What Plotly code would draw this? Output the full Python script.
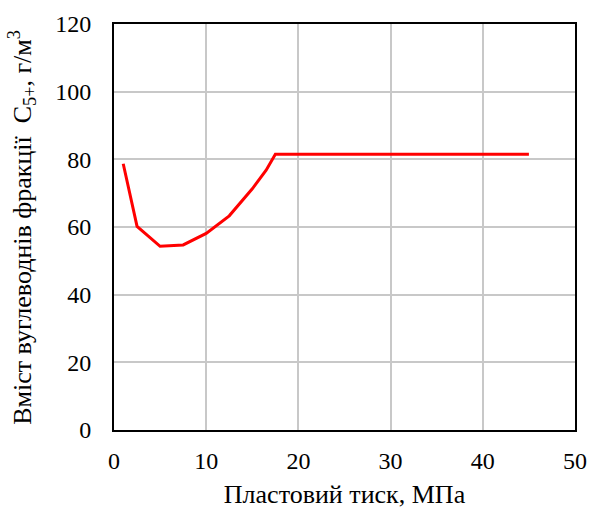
import plotly.graph_objects as go

pressure = [1, 2.5, 5, 7.5, 10, 12.5, 15, 16.5, 17.5, 45]
content = [78.7, 60.2, 54.3, 54.7, 58.1, 63.3, 71.3, 76.8, 81.5, 81.5]

x_ticks = [0, 10, 20, 30, 40, 50]
y_ticks = [0, 20, 40, 60, 80, 100, 120]

x_title = "Пластовий тиск, МПа"
y_title = "Вміст вуглеводнів фракції  C<sub>5+</sub>, г/м<sup>3</sup>"

fig = go.Figure()
fig.add_trace(go.Scatter(x=pressure, y=content, mode="lines",
                         line=dict(color="#ff0000", width=3), showlegend=False))

font = dict(family="Liberation Serif, Times New Roman, serif", size=24, color="black")
tfont = dict(family="Liberation Serif, Times New Roman, serif", size=26, color="black")
fig.update_layout(
    width=590, height=509,
    margin=dict(l=114, r=15, t=24, b=79, autoexpand=False),
    paper_bgcolor="white", plot_bgcolor="white",
    font=font,
    xaxis=dict(range=[0, 50], tickvals=x_ticks, showgrid=True, gridcolor="#c8c8c8", gridwidth=1.5,
               showline=True, linecolor="black", linewidth=2, mirror=True, zeroline=False,
               ticks="", ticklabelstandoff=8, automargin=False, tickfont=font,
               title=dict(text=x_title, font=tfont, standoff=14)),
    yaxis=dict(range=[0, 120], tickvals=y_ticks, showgrid=True, gridcolor="#c8c8c8", gridwidth=1.5,
               showline=True, linecolor="black", linewidth=2, mirror=True, zeroline=False,
               ticks="", ticklabelstandoff=16, automargin=False, tickfont=font),
    annotations=[dict(text=y_title, font=tfont, textangle=-90, showarrow=False,
                      xref="paper", yref="paper", x=-0.2, y=0.5,
                      xanchor="center", yanchor="middle")],
)
fig.write_html("out.html", config={"displayModeBar": False},
               post_script="document.body.style.margin='0';document.body.style.overflow='hidden';")
